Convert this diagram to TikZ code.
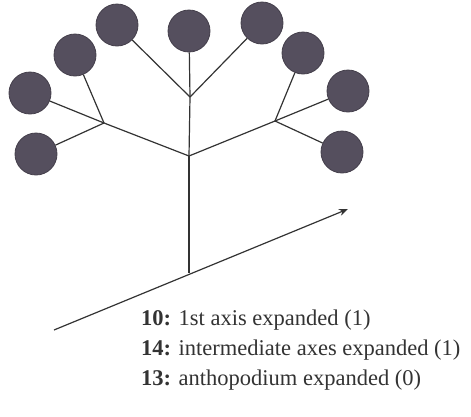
\documentclass[tikz,border=0pt]{standalone}
\usepackage{fontspec}
\setmainfont{Liberation Serif}
\usetikzlibrary{arrows.meta}
\definecolor{flower}{HTML}{554F5E}
\definecolor{ink}{HTML}{333333}
\begin{document}
\begin{tikzpicture}[x=1pt,y=-1pt,
  flw/.style={circle,fill=flower,draw=flower!80!black,line width=0.8pt,minimum size=42pt,inner sep=0pt},
  br/.style={draw=ink,line width=1.2pt},
  lbl/.style={anchor=base west,inner sep=0pt,text=ink,font=\fontsize{22.5}{27}\selectfont}]
\useasboundingbox (0,0) rectangle (471,416);
% flowers
\node[flw] (f1) at (36,154) {};
\node[flw] (f2) at (30,93) {};
\node[flw] (f3) at (75,55) {};
\node[flw] (f4) at (117,25) {};
\node[flw] (f5) at (189,31) {};
\node[flw] (f6) at (262,23) {};
\node[flw] (f7) at (303,53) {};
\node[flw] (f8) at (348,91) {};
\node[flw] (f9) at (342,152) {};
% junctions
\coordinate (base) at (189,273);
\coordinate (main) at (189,156);
\coordinate (lj) at (104,123);
\coordinate (rj) at (275,121);
\coordinate (tj) at (190,97);
\coordinate (a0) at (54,330);
\coordinate (a1) at (348,209);
% branches
\draw[br] (base) -- (main);
\draw[br] (main) -- (tj);
\draw[br] (main) -- (lj);
\draw[br] (main) -- (rj);
\draw[br] (lj) -- (f1);
\draw[br] (lj) -- (f2);
\draw[br] (lj) -- (f3);
\draw[br] (tj) -- (f4);
\draw[br] (tj) -- (f5);
\draw[br] (tj) -- (f6);
\draw[br] (rj) -- (f7);
\draw[br] (rj) -- (f8);
\draw[br] (rj) -- (f9);
% axis arrow
\draw[br,-{Stealth[length=9pt,width=7pt]}] (a0) -- (a1);
% labels
\node[lbl] (t1) at (141,325) {\textbf{10:} 1st axis expanded (1)};
\node[lbl] (t2) at (141,355) {\textbf{14:} intermediate axes expanded (1)};
\node[lbl] (t3) at (141,385) {\textbf{13:} anthopodium expanded (0)};
\end{tikzpicture}
\end{document}
